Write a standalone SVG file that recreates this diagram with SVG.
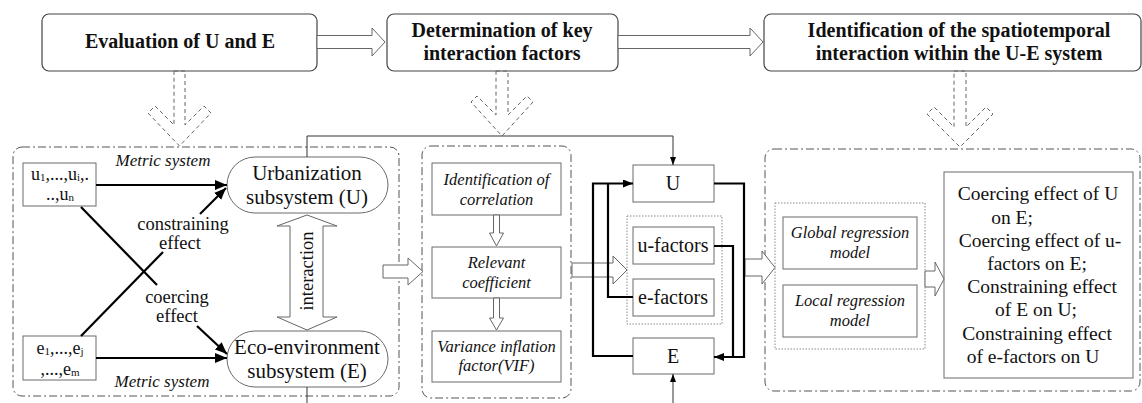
<svg xmlns="http://www.w3.org/2000/svg" width="1142" height="403" viewBox="0 0 1142 403" font-family="'Liberation Serif', serif">
<defs>
<style>
text{fill:#111}
.title{font-size:20px;font-weight:bold;text-anchor:middle}
.tbox{fill:#fff;stroke:#444;stroke-width:1.2}
.box{fill:#fff;stroke:#6a6a6a;stroke-width:1}
.cont{fill:none;stroke:#555;stroke-width:1;stroke-dasharray:8 3 2 3}
.dot{fill:none;stroke:#888;stroke-width:1;stroke-dasharray:1.5 1.5}
.hol{fill:#fff;stroke:#666;stroke-width:1}
.dash{fill:none;stroke:#666;stroke-width:1;stroke-dasharray:4 3}
.it{font-style:italic;font-size:16.5px;text-anchor:middle}
.mt{font-style:italic;font-size:17px;text-anchor:middle}
.lbl{font-size:18.5px;text-anchor:middle}
.big{font-size:21px;text-anchor:middle}
.mid{font-size:20px;text-anchor:middle}
.res{font-size:19.5px;text-anchor:middle}
.sm{font-size:18px;text-anchor:middle}
.thk{fill:none;stroke:#000;stroke-width:2.2}
.thn{fill:none;stroke:#333;stroke-width:1}
</style>
<marker id="ah" viewBox="0 0 12 10" markerWidth="12" markerHeight="10" refX="12" refY="5" orient="auto" markerUnits="userSpaceOnUse"><path d="M0,0 L12,5 L0,10 z" fill="#000"/></marker>
<marker id="am" viewBox="0 0 10 8" markerWidth="10" markerHeight="8" refX="10" refY="4" orient="auto" markerUnits="userSpaceOnUse"><path d="M0,0 L10,4 L0,8 z" fill="#000"/></marker>
<marker id="as" viewBox="0 0 8 6" markerWidth="8" markerHeight="6" refX="8" refY="3" orient="auto" markerUnits="userSpaceOnUse"><path d="M0,0 L8,3 L0,6 z" fill="#000"/></marker>
</defs>
<rect width="1142" height="403" fill="#fff"/>

<g id="step1"><rect class="tbox" x="42" y="14" width="275" height="57" rx="7"/><text class="title" x="180" y="48">Evaluation of U and E</text></g>
<g id="step2"><rect class="tbox" x="387" y="14" width="231" height="57" rx="7"/><text class="title" x="502" y="37">Determination of key</text><text class="title" x="502" y="60">interaction factors</text></g>
<g id="step3"><rect class="tbox" x="764" y="14" width="377" height="57" rx="7"/><text class="title" x="959" y="37">Identification of the spatiotemporal</text><text class="title" x="959" y="60">interaction within the U-E system</text></g>

<g id="container1"><rect class="cont" x="13" y="147" width="386" height="249" rx="9"/></g>
<g id="container2"><rect class="cont" x="422" y="146" width="149" height="252" rx="9"/></g>
<g id="container3"><rect class="cont" x="765" y="149" width="375" height="242" rx="9"/></g>

<g id="u-indicators"><rect class="box" x="23" y="163" width="73" height="43"/><text class="sm" x="60" y="180">u<tspan font-size="11" dy="1">1</tspan><tspan dy="-1">,...,u</tspan><tspan font-size="11" dy="1">i</tspan><tspan dy="-1">,.</tspan></text><text class="sm" x="60" y="200">..,u<tspan font-size="11" dy="1">n</tspan></text></g>
<g id="e-indicators"><rect class="box" x="23" y="336" width="73" height="44"/><text class="sm" x="60" y="354">e<tspan font-size="11" dy="1">1</tspan><tspan dy="-1">,...,e</tspan><tspan font-size="11" dy="1">j</tspan></text><text class="sm" x="60" y="375">,...,e<tspan font-size="11" dy="1">m</tspan></text></g>
<g id="metric-labels"><text class="mt" x="163" y="166">Metric system</text><text class="mt" x="162" y="387">Metric system</text></g>
<g id="urban"><rect class="box" x="227" y="157" width="161" height="56" rx="28"/><text class="big" x="307" y="180">Urbanization</text><text class="big" x="307" y="204">subsystem (U)</text></g>
<g id="eco"><rect class="box" x="227" y="331" width="161" height="56" rx="28"/><text class="big" x="307" y="354">Eco-environment</text><text class="big" x="307" y="378">subsystem (E)</text></g>
<g id="interaction"><path class="hol" d="M307,215 L337,226 L323,226 L323,317 L337,317 L307,330 L277,317 L290,317 L290,226 L277,226 Z"/><text class="lbl" transform="translate(313,271) rotate(-90)">interaction</text></g>
<g id="effect-labels"><text class="lbl" x="183" y="230">constraining</text><text class="lbl" x="180" y="249">effect</text><text class="lbl" x="177" y="303">coercing</text><text class="lbl" x="177" y="322">effect</text></g>

<g id="corr"><rect class="box" x="432" y="163" width="129" height="52"/><text class="it" x="496.5" y="185">Identification of</text><text class="it" x="496.5" y="205">correlation</text></g>
<g id="coef"><rect class="box" x="432" y="247" width="129" height="51"/><text class="it" x="496.5" y="268">Relevant</text><text class="it" x="496.5" y="288">coefficient</text></g>
<g id="vif"><rect class="box" x="432" y="331" width="129" height="51"/><text class="it" x="496.5" y="352">Variance inflation</text><text class="it" x="496.5" y="371">factor(VIF)</text></g>

<g id="factor-group"><rect class="dot" x="627" y="216" width="95" height="108"/></g>
<g id="U"><rect class="box" x="633" y="165" width="81" height="37"/><text class="mid" x="673" y="190">U</text></g>
<g id="u-factors"><rect class="box" x="633" y="227" width="81" height="37"/><text class="mid" x="673" y="252">u-factors</text></g>
<g id="e-factors"><rect class="box" x="633" y="279" width="81" height="37"/><text class="mid" x="673" y="304">e-factors</text></g>
<g id="E"><rect class="box" x="633" y="338" width="81" height="36"/><text class="mid" x="673" y="363">E</text></g>

<g id="model-group"><rect class="dot" x="775" y="203" width="150" height="146"/></g>
<g id="global"><rect class="box" x="783" y="217" width="134" height="52"/><text class="it" x="850" y="238">Global regression</text><text class="it" x="850" y="258">model</text></g>
<g id="local"><rect class="box" x="783" y="285" width="134" height="52"/><text class="it" x="850" y="306">Local regression</text><text class="it" x="850" y="326">model</text></g>
<g id="results"><rect class="box" x="944" y="172" width="189" height="206"/>
<text class="res" x="1038" y="200">Coercing effect of U</text>
<text class="res" x="1012" y="224">on E;</text>
<text class="res" x="1040" y="247">Coercing effect of u-</text>
<text class="res" x="1037" y="270">factors on E;</text>
<text class="res" x="1042" y="293">Constraining effect</text>
<text class="res" x="1036" y="316">of E on U;</text>
<text class="res" x="1037" y="340">Constraining effect</text>
<text class="res" x="1033" y="363">of e-factors on U</text></g>

<g id="connectors">
<path class="hol" d="M317,35.5 H372 V28 L385,42 L372,56 V48.5 H317 Z"/>
<path class="hol" d="M618,35.5 H750 V28 L763,42 L750,56 V48.5 H618 Z"/>
<path class="dash" d="M174,71 H185 V125 L204,106 L211,113 L179.5,146 L148,113 L155,106 L174,125 Z"/>
<path class="dash" d="M496,71 H508 V115 L527,96 L533,102 L502,136 L471,102 L477,96 L496,115 Z"/>
<path class="dash" d="M954,71 H966 V127 L986,107 L993,114 L960,147 L927,114 L934,107 L954,127 Z"/>
<path class="thk" d="M96,185 H227" marker-end="url(#ah)"/>
<path class="thk" d="M96,358 H227" marker-end="url(#ah)"/>
<path class="thk" d="M81,336 L163,252"/>
<path class="thk" d="M200,214 L226,188" marker-end="url(#ah)"/>
<path class="thk" d="M81,207 L157,285"/>
<path class="thk" d="M197,326 L227,354" marker-end="url(#ah)"/>
<path class="hol" d="M383,265 H408 V258 L423,271.5 L408,285 V278 H383 Z"/>
<path class="hol" d="M493.5,215 H499.5 V233 H503.5 L496.5,246 L489.5,233 H493.5 Z"/>
<path class="hol" d="M493.5,298 H499.5 V318 H503.5 L496.5,330 L489.5,318 H493.5 Z"/>
<path class="hol" d="M572,263 H613 V256 L627,270 L613,284 V277 H572 Z"/>
<path class="hol" d="M745,259 H762 V251 L775,267.5 L762,284 V276 H745 Z"/>
<path class="hol" d="M925,271 H935 V262 L944,279 L935,296 V287 H925 Z"/>
<path class="thn" d="M307,157 V136 H673 V165" marker-end="url(#as)"/>
<path class="thn" d="M307,387 V403"/>
<path class="thn" d="M673,403 V374" marker-end="url(#as)"/>
<path class="thk" d="M633,356 H593 V183.5 H633" marker-end="url(#am)"/>
<path class="thk" d="M633,297 H608 V183.5"/>
<path class="thk" d="M714,183.5 H744 V357 H714" marker-end="url(#am)"/>
<path class="thk" d="M714,246 H733 V357"/>
</g>
</svg>
